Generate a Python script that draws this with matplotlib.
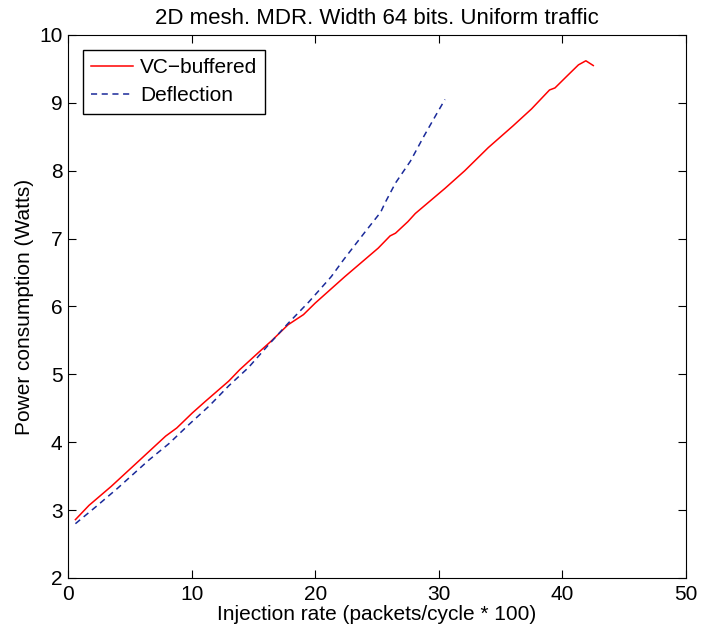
import numpy as np
import matplotlib
matplotlib.use("Agg")
import matplotlib.pyplot as plt

plt.rcParams['font.family'] = ['Liberation Sans', 'DejaVu Sans']

# VC-buffered router
vc_rate = [0.6, 1.7, 3.5, 6.0, 7.9, 8.8, 10.05, 11.1, 13.0, 13.9, 15.4, 16.5,
           17.8, 19.05, 20.0, 22.4, 25.1, 26.06, 26.5, 27.5, 28.1, 30.5, 32.1,
           34.0, 36.0, 37.5, 38.96, 39.4, 40.4, 41.3, 41.9, 42.5]
vc_power = [2.86, 3.07, 3.35, 3.77, 4.09, 4.21, 4.43, 4.60, 4.90, 5.07, 5.32,
            5.50, 5.73, 5.88, 6.05, 6.44, 6.86, 7.04, 7.08, 7.25, 7.37, 7.74,
            8.00, 8.34, 8.66, 8.91, 9.19, 9.22, 9.40, 9.56, 9.62, 9.55]

# Deflection router
defl_rate = [0.6, 2.26, 4.0, 6.56, 8.17, 9.78, 11.4, 13.0, 14.6, 16.2, 17.8,
             19.5, 21.3, 22.3, 24.0, 25.3, 25.66, 26.5, 27.7, 28.8, 29.8, 30.5]
defl_power = [2.80, 3.05, 3.32, 3.74, 3.98, 4.26, 4.53, 4.83, 5.10, 5.43,
              5.75, 6.07, 6.44, 6.69, 7.09, 7.39, 7.53, 7.82, 8.14, 8.51, 8.83,
              9.05]

fig = plt.figure(figsize=(7.04, 6.35), dpi=100)
ax = fig.add_axes([0.0966, 0.0898, 0.8778, 0.8551])

ax.plot(vc_rate, vc_power, color='red', linewidth=1.1, label='VC\u2212buffered')
ax.plot(defl_rate, defl_power, color='#1a2a9a', linestyle='--', linewidth=1.1,
        dashes=(4, 3), label='Deflection')

ax.set_xlim(0, 50)
ax.set_ylim(2, 10)
ax.set_xticks([0, 10, 20, 30, 40, 50])
ax.set_yticks([2, 3, 4, 5, 6, 7, 8, 9, 10])
ax.tick_params(direction='in', top=True, right=True, labelsize=15, length=6)
ax.tick_params(axis='x', pad=5)
ax.tick_params(axis='y', pad=4)

ax.set_xlabel('Injection rate (packets/cycle * 100)', fontsize=15, labelpad=1)
ax.set_ylabel('Power consumption (Watts)', fontsize=15, labelpad=4)
ax.set_title('2D mesh. MDR. Width 64 bits. Uniform traffic', fontsize=16, pad=8)

leg = ax.legend(loc='upper left', fontsize=15, fancybox=False, framealpha=1,
                edgecolor='black', handlelength=2.0, borderaxespad=0.7,
                borderpad=0.4, labelspacing=0.45, handletextpad=0.35)
leg.get_frame().set_linewidth(1.0)

fig.savefig('out.png', dpi=100)
